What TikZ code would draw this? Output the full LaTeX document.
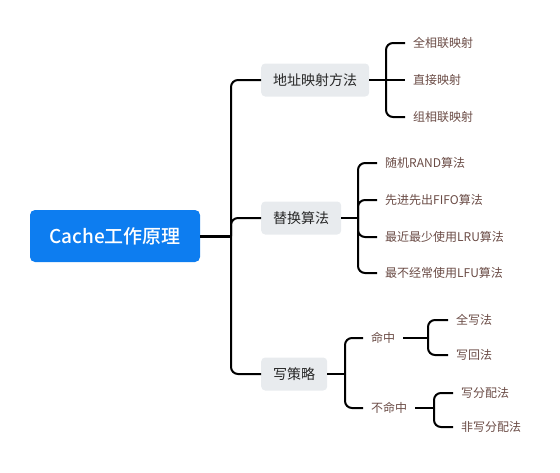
\documentclass[tikz,border=0pt]{standalone}
\usepackage{fontspec}
\setmainfont{Noto Sans CJK SC}
\newfontfamily\rootfont{Noto Sans CJK SC Medium}
\usetikzlibrary{positioning}

\definecolor{rootblue}{HTML}{0D7DF0}
\definecolor{topicgray}{HTML}{E8EBEE}
\definecolor{leafbrown}{HTML}{6A4B45}

\begin{document}
\begin{tikzpicture}[x=1pt, y=-1pt,
        root/.style={fill=rootblue, text=white, rounded corners=5pt, minimum width=170pt,
            minimum height=52pt, font=\fontsize{19}{22}\rootfont},
        topic/.style={fill=topicgray, text=black!85, rounded corners=4pt, anchor=west,
            minimum height=33pt, inner xsep=12pt, font=\fontsize{14}{16}\selectfont},
        leaf/.style={text=leafbrown, anchor=west, inner xsep=8pt, inner ysep=2pt,
            font=\fontsize{12}{14}\selectfont},
        branch/.style={draw=black, line width=2pt, rounded corners=7pt},
        stem/.style={draw=black, line width=3pt}]
    \useasboundingbox (0,0) rectangle (560,472);

    \node[root] (cache) at (115,236) {Cache工作原理};

    \node[topic] (map) at (261,80) {地址映射方法};
    \node[topic] (repl) at (261,218) {替换算法};
    \node[topic] (write) at (261,374) {写策略};

    \node[leaf] (full) at (405,43) {全相联映射};
    \node[leaf] (direct) at (405,80) {直接映射};
    \node[leaf] (set) at (405,117) {组相联映射};

    \node[leaf] (rand) at (377,163) {随机RAND算法};
    \node[leaf] (fifo) at (377,200) {先进先出FIFO算法};
    \node[leaf] (lru) at (377,237) {最近最少使用LRU算法};
    \node[leaf] (lfu) at (377,273) {最不经常使用LFU算法};

    \node[leaf] (hit) at (363,338) {命中};
    \node[leaf] (miss) at (363,408) {不命中};

    \node[leaf] (through) at (448,320) {全写法};
    \node[leaf] (back) at (448,355) {写回法};
    \node[leaf] (alloc) at (453,393) {写分配法};
    \node[leaf] (noalloc) at (453,427) {非写分配法};

    % junctions
    \coordinate (j0) at (231,236);
    \coordinate (j1) at (386,80);
    \coordinate (j2) at (358,218);
    \coordinate (j3) at (345,374);
    \coordinate (j4) at (428,338);
    \coordinate (j5) at (434,408);

    \path[stem] (cache.east) -- (j0);
    \path[branch] (j0) |- (map.west);
    \path[branch] (j0) |- (repl.west);
    \path[branch] (j0) |- (write.west);

    \path[branch] (map.east) -- (j1);
    \path[branch] (j1) |- (full.west);
    \path[branch] (j1) -- (direct.west);
    \path[branch] (j1) |- (set.west);

    \path[branch] (repl.east) -- (j2);
    \path[branch] (j2) |- (rand.west);
    \path[branch] (j2) |- (fifo.west);
    \path[branch] (j2) |- (lru.west);
    \path[branch] (j2) |- (lfu.west);

    \path[branch] (write.east) -- (j3);
    \path[branch] (j3) |- (hit.west);
    \path[branch] (j3) |- (miss.west);

    \path[branch] (hit.east) -- (j4);
    \path[branch] (j4) |- (through.west);
    \path[branch] (j4) |- (back.west);

    \path[branch] (miss.east) -- (j5);
    \path[branch] (j5) |- (alloc.west);
    \path[branch] (j5) |- (noalloc.west);
\end{tikzpicture}
\end{document}
